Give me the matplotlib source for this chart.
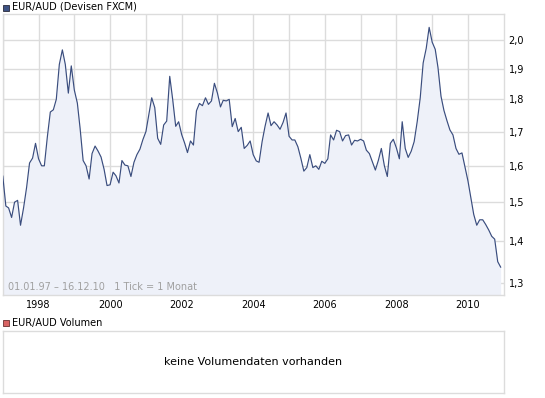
import numpy as np
import pandas as pd
import matplotlib
matplotlib.use("Agg")
import matplotlib.pyplot as plt
import matplotlib.dates as mdates

plt.rcParams['font.family'] = ['DejaVu Sans']

# monthly EUR/AUD closes, Jan 1997 - Dec 2010
eur_aud = [
    1.571, 1.490, 1.485, 1.460, 1.500, 1.505, 1.440, 1.485, 1.540, 1.608, 1.622, 1.665,
    1.620, 1.600, 1.600, 1.685, 1.760, 1.767, 1.800, 1.915, 1.965, 1.915, 1.820, 1.910,
    1.830, 1.788, 1.710, 1.615, 1.600, 1.563, 1.635, 1.657, 1.642, 1.625, 1.590, 1.545,
    1.547, 1.582, 1.572, 1.552, 1.615, 1.602, 1.600, 1.570, 1.610, 1.632, 1.648, 1.676,
    1.700, 1.755, 1.805, 1.774, 1.680, 1.662, 1.720, 1.732, 1.875, 1.800, 1.716, 1.730,
    1.691, 1.665, 1.638, 1.672, 1.660, 1.764, 1.787, 1.780, 1.805, 1.784, 1.795, 1.852,
    1.820, 1.776, 1.797, 1.795, 1.800, 1.715, 1.740, 1.700, 1.713, 1.650, 1.659, 1.672,
    1.632, 1.614, 1.610, 1.670, 1.716, 1.757, 1.718, 1.730, 1.720, 1.707, 1.728, 1.757,
    1.686, 1.675, 1.675, 1.655, 1.622, 1.585, 1.595, 1.632, 1.595, 1.600, 1.590, 1.613,
    1.607, 1.620, 1.690, 1.675, 1.704, 1.700, 1.672, 1.688, 1.690, 1.660, 1.674, 1.672,
    1.677, 1.672, 1.645, 1.635, 1.612, 1.588, 1.615, 1.650, 1.600, 1.570, 1.665, 1.677,
    1.652, 1.620, 1.730, 1.650, 1.624, 1.642, 1.670, 1.730, 1.805, 1.920, 1.970, 2.045,
    1.992, 1.967, 1.905, 1.810, 1.765, 1.733, 1.705, 1.690, 1.650, 1.633, 1.637, 1.597,
    1.558, 1.510, 1.468, 1.440, 1.454, 1.454, 1.442, 1.428, 1.412, 1.405, 1.350, 1.337,
]
months = pd.date_range("1997-01-01", periods=len(eur_aud), freq="MS")

y_ticks = [1.3, 1.4, 1.5, 1.6, 1.7, 1.8, 1.9, 2.0]
y_labels = ["1,3", "1,4", "1,5", "1,6", "1,7", "1,8", "1,9", "2,0"]
year_labels = list(range(1998, 2011, 2))

line_col = "#3a4d7e"
fill_col = "#eef1f9"
grid_col = "#dcdcdc"
fs = 7

fig = plt.figure(figsize=(5.45, 3.98), dpi=100)
ax = fig.add_axes([2.8 / 545, 1 - 294.8 / 398, 500.8 / 545, 280.8 / 398])

ax.fill_between(months, eur_aud, 1.2, color=fill_col, lw=0, zorder=1)
ax.plot(months, eur_aud, color=line_col, lw=0.85, zorder=3)

ax.set_yscale("log")
ax.set_ylim(1.273, 2.094)
ax.set_xlim(pd.Timestamp("1997-01-01"), pd.Timestamp("2010-12-31"))
ax.yaxis.set_minor_locator(matplotlib.ticker.NullLocator())
ax.set_yticks(y_ticks)
ax.set_yticklabels(y_labels)
ax.yaxis.tick_right()

ax.xaxis.set_major_locator(mdates.YearLocator(1))
ax.xaxis.set_minor_locator(matplotlib.ticker.NullLocator())
ax.xaxis.set_major_formatter(
    matplotlib.ticker.FuncFormatter(
        lambda v, p: str(mdates.num2date(v).year) if mdates.num2date(v).year in year_labels else ""))

ax.grid(True, color=grid_col, lw=1, zorder=0)
ax.set_axisbelow(True)
ax.tick_params(axis="both", length=0, labelsize=fs, colors="black")
ax.tick_params(axis="y", pad=3.5)
ax.tick_params(axis="x", pad=4)
for s in ax.spines.values():
    s.set_color(grid_col)
    s.set_linewidth(1)

ax.text(0.0095, 0.026, "01.01.97 \u2013 16.12.10   1 Tick = 1 Monat", transform=ax.transAxes,
        fontsize=fs, color="#a0a0a0", va="center", ha="left", zorder=4)

# header squares + titles
fig.patches.append(plt.Rectangle((3 / 545, 1 - 10.5 / 398), 6 / 545, 6 / 398, transform=fig.transFigure,
                                 facecolor="#3d5283", edgecolor="#2a2a3a", lw=0.6))
fig.text(12 / 545, 1 - 6.5 / 398, "EUR/AUD (Devisen FXCM)", fontsize=fs, va="center", ha="left")

fig.patches.append(plt.Rectangle((3 / 545, 1 - 326 / 398), 6 / 545, 6 / 398, transform=fig.transFigure,
                                 facecolor="#d96464", edgecolor="#6a3030", lw=0.6))
fig.text(12 / 545, 1 - 322.6 / 398, "EUR/AUD Volumen", fontsize=fs, va="center", ha="left")

# empty volume panel
vax = fig.add_axes([2.8 / 545, 1 - 393.2 / 398, 500.8 / 545, 62.6 / 398])
vax.set_xticks([])
vax.set_yticks([])
for s in vax.spines.values():
    s.set_color(grid_col)
    s.set_linewidth(1)
vax.text(0.5, 0.5, "keine Volumendaten vorhanden", transform=vax.transAxes,
         fontsize=fs + 1, ha="center", va="center")

fig.savefig("out.png", dpi=100)
